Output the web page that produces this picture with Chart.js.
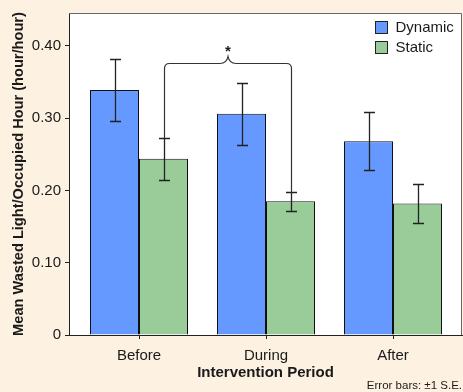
<!DOCTYPE html>
<html>
<head>
<meta charset="utf-8">
<script src="https://cdn.jsdelivr.net/npm/chart.js@4/dist/chart.umd.min.js"></script>
<style>
  html, body { margin: 0; padding: 0; background: #FDF1E1; }
  #wrap { width: 463px; height: 392px; position: relative; }
</style>
</head>
<body>
<div id="wrap"><canvas id="c" width="463" height="392"></canvas></div>
<script>
// ---- data ----
const categories = ['Before', 'During', 'After'];
const seriesNames = ['Dynamic', 'Static'];
const dynamicMeans = [0.339, 0.306, 0.268];
const staticMeans = [0.244, 0.185, 0.182];
const dynamicSE = [0.043, 0.043, 0.040];
const staticSE = [0.029, 0.013, 0.027];
const yTickLabels = ['0', '0.10', '0.20', '0.30', '0.40'];
const bracketLevel = 0.3765;
const bracketMark = '*';
const yTitle = 'Mean Wasted Light/Occupied Hour (hour/hour)';
const xTitle = 'Intervention Period';
const footNote = 'Error bars: \u00b11 S.E.';

const FONT = "'Liberation Sans', Arial, Helvetica, sans-serif";
const TXT = '#1a1a1a';
const colors = ['#6699FF', '#99CC99'];

function toPoints(arr) { return arr.map((v, i) => ({ x: i, y: v })); }

const errorBarPlugin = {
  id: 'errorBars',
  afterDatasetsDraw(chart) {
    const ctx = chart.ctx;
    const ys = chart.scales.y;
    const ses = [dynamicSE, staticSE];
    const means = [dynamicMeans, staticMeans];
    ctx.save();
    ctx.strokeStyle = '#222';
    ctx.lineWidth = 1.3;
    for (let d = 0; d < 2; d++) {
      const meta = chart.getDatasetMeta(d);
      meta.data.forEach((bar, i) => {
        const x = Math.round(bar.x) + 0.5;
        const yt = Math.round(ys.getPixelForValue(means[d][i] + ses[d][i])) + 0.5;
        const yb = Math.round(ys.getPixelForValue(means[d][i] - ses[d][i])) + 0.5;
        ctx.beginPath();
        ctx.moveTo(x, yt); ctx.lineTo(x, yb);
        ctx.moveTo(x - 5.5, yt); ctx.lineTo(x + 5.5, yt);
        ctx.moveTo(x - 5.5, yb); ctx.lineTo(x + 5.5, yb);
        ctx.stroke();
      });
    }
    // significance bracket between Before-Static and During-Static
    const meta = chart.getDatasetMeta(1);
    const lx = Math.round(meta.data[0].x) + 0.5;
    const rx = Math.round(meta.data[1].x) + 0.5;
    const lb = Math.round(ys.getPixelForValue(staticMeans[0] + staticSE[0])) + 0.5;
    const rb = Math.round(ys.getPixelForValue(staticMeans[1] + staticSE[1])) + 0.5;
    const by = Math.round(ys.getPixelForValue(bracketLevel)) + 0.5;
    const mx = (lx + rx) / 2;
    const r = 5;
    ctx.strokeStyle = '#333';
    ctx.lineWidth = 1.2;
    ctx.beginPath();
    ctx.moveTo(lx, lb);
    ctx.lineTo(lx, by + r);
    ctx.quadraticCurveTo(lx, by, lx + r, by);
    ctx.lineTo(mx - 8, by);
    ctx.bezierCurveTo(mx - 3, by, mx - 1, by - 2, mx, by - 7);
    ctx.bezierCurveTo(mx + 1, by - 2, mx + 3, by, mx + 8, by);
    ctx.lineTo(rx - r, by);
    ctx.quadraticCurveTo(rx, by, rx, by + r);
    ctx.lineTo(rx, rb);
    ctx.stroke();
    ctx.fillStyle = TXT;
    ctx.font = 'bold 15px ' + FONT;
    ctx.textAlign = 'center';
    ctx.textBaseline = 'middle';
    ctx.fillText(bracketMark, mx, by - 12);
    ctx.restore();
  }
};

const framePlugin = {
  id: 'frame',
  beforeDatasetsDraw(chart) {
    const { ctx, chartArea: a } = chart;
    ctx.save();
    ctx.strokeStyle = '#666';
    ctx.lineWidth = 1;
    ctx.beginPath();
    ctx.moveTo(a.left, a.top + 0.5);
    ctx.lineTo(a.right - 0.5, a.top + 0.5);
    ctx.lineTo(a.right - 0.5, a.bottom);
    ctx.stroke();
    ctx.restore();
  },
  afterDraw(chart) {
    const { ctx } = chart;
    ctx.save();
    ctx.font = '15px ' + FONT;
    ctx.textBaseline = 'middle';
    ctx.textAlign = 'left';
    seriesNames.forEach((name, i) => {
      const bx = 375.5, by = 21.5 + i * 20;
      ctx.fillStyle = colors[i];
      ctx.fillRect(bx, by, 12, 12);
      ctx.strokeStyle = '#222';
      ctx.lineWidth = 1;
      ctx.strokeRect(bx, by, 12, 12);
      ctx.fillStyle = TXT;
      ctx.fillText(name, 395.5, by + 6.5);
    });
    ctx.restore();
  }
};

const bgPlugin = {
  id: 'bg',
  beforeDraw(chart) {
    const { ctx, chartArea: a } = chart;
    ctx.save();
    ctx.fillStyle = '#FDF1E1';
    ctx.fillRect(0, 0, chart.width, chart.height);
    ctx.fillStyle = '#ffffff';
    ctx.fillRect(a.left, a.top, a.right - a.left, a.bottom - a.top);
    ctx.restore();
  }
};

new Chart(document.getElementById('c'), {
  type: 'bar',
  data: {
    datasets: [
      { label: seriesNames[0], data: toPoints(dynamicMeans), backgroundColor: colors[0], borderColor: '#111', borderWidth: 1 },
      { label: seriesNames[1], data: toPoints(staticMeans), backgroundColor: colors[1], borderColor: '#111', borderWidth: 1 }
    ]
  },
  options: {
    responsive: false,
    animation: false,
    devicePixelRatio: 1,
    categoryPercentage: 98 / 127,
    barPercentage: 1.0,
    layout: { padding: { top: 12, right: 1, left: 0, bottom: 0 } },
    plugins: {
      legend: { display: false },
      tooltip: { enabled: false },
      subtitle: {
        display: true,
        text: footNote,
        position: 'bottom',
        align: 'end',
        color: TXT,
        font: { family: FONT, size: 11.5, lineHeight: 1.0 },
        padding: { top: 0, bottom: 0 }
      }
    },
    scales: {
      x: {
        type: 'linear',
        min: -70 / 127,
        max: -70 / 127 + 393 / 127,
        offset: false,
        afterFit(s) { s.height = 45.5; },
        grid: { offset: false, drawOnChartArea: false, drawTicks: true, tickLength: 4, color: '#222' },
        border: { display: true, color: '#222', width: 1 },
        ticks: {
          stepSize: 1,
          includeBounds: false,
          autoSkip: false,
          maxRotation: 0,
          padding: 8,
          color: TXT,
          font: { family: FONT, size: 15 },
          callback: (v) => (Number.isInteger(v) && categories[v] !== undefined) ? categories[v] : ''
        },
        title: {
          display: true,
          text: xTitle,
          color: TXT,
          font: { family: FONT, size: 15, weight: 'bold', lineHeight: 1 },
          padding: { top: 0, bottom: 0 }
        }
      },
      y: {
        min: 0,
        max: 0.4455,
        afterFit(s) { s.width = 69; },
        grid: { drawOnChartArea: false, drawTicks: true, tickLength: 4, color: '#222' },
        border: { display: true, color: '#222', width: 1 },
        ticks: {
          stepSize: 0.1,
          includeBounds: false,
          padding: 4,
          color: TXT,
          font: { family: FONT, size: 15 },
          callback: (v, i) => yTickLabels[i]
        },
        title: {
          display: true,
          text: yTitle,
          color: TXT,
          font: { family: FONT, size: 14.6, weight: 'bold', lineHeight: 1 },
          padding: { top: 12, bottom: 0 }
        }
      }
    }
  },
  plugins: [bgPlugin, framePlugin, errorBarPlugin]
});
</script>
</body>
</html>
